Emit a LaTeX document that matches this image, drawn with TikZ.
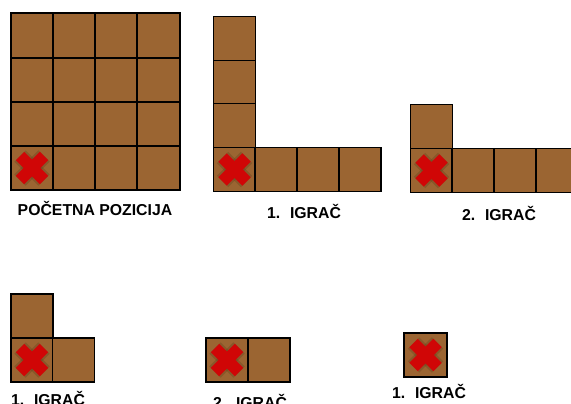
\documentclass[tikz,border=0pt]{standalone}
\usepackage{fontspec}
\setmainfont{Liberation Sans}
\definecolor{tilebrown}{RGB}{155,101,50}
\definecolor{xred}{RGB}{208,6,6}
\definecolor{glow}{RGB}{95,60,25}
\tikzset{
  cell/.style={rectangle, draw=black, fill=tilebrown, line width=1.8pt,
    minimum width=42pt, minimum height=44pt, inner sep=0pt},
  lbl/.style={font=\fontsize{15.8}{18}\selectfont\bfseries, inner sep=0pt, anchor=center},
  xglow/.style={line width=16pt, draw=glow, opacity=0.3},
  xarm/.style={line width=12pt, draw=xred}
}
\newcommand\redx[1]{%
  \draw[xglow] ([shift={(-12pt,-12pt)}]#1.center) -- ([shift={(12pt,12pt)}]#1.center);
  \draw[xglow] ([shift={(-12pt,12pt)}]#1.center) -- ([shift={(12pt,-12pt)}]#1.center);
  \draw[xarm] ([shift={(-12pt,-12pt)}]#1.center) -- ([shift={(12pt,12pt)}]#1.center);
  \draw[xarm] ([shift={(-12pt,12pt)}]#1.center) -- ([shift={(12pt,-12pt)}]#1.center);
}
\begin{document}
\begin{tikzpicture}[x=1pt,y=-1pt]
\clip (0,0) rectangle (571,404);
\fill[white] (0,0) rectangle (571,404);
% Panel 1: 4x4 grid
\foreach \c/\cx in {1/32,2/74,3/116,4/158.5}{
  \foreach \r/\cy in {1/35.5,2/80,3/124,4/168}{
    \node[cell, minimum width=42.25pt, minimum height=44.25pt] (pa-\r-\c) at (\cx,\cy) {};
  }
}
\node[lbl] (la) at (95,208.5) {POČETNA POZICIJA};
% Panel 2: L shape
\node[cell] (pb-1) at (234.5,38.5) {};
\node[cell] (pb-2) at (234.5,82.5) {};
\node[cell] (pb-3) at (234.5,125.5) {};
\node[cell] (pb-4) at (234.5,169.5) {};
\node[cell] (pb-5) at (276,169.5) {};
\node[cell] (pb-6) at (318,169.5) {};
\node[cell] (pb-7) at (360,169.5) {};
\node[lbl] (lb) at (304,211) {1.\hspace{0.62em}IGRAČ};
% Panel 3
\node[cell] (pc-1) at (431.5,126.5) {};
\node[cell] (pc-2) at (431.5,170.5) {};
\node[cell] (pc-3) at (473,170.5) {};
\node[cell] (pc-4) at (515,170.5) {};
\node[cell] (pc-5) at (557,170.5) {};
\node[lbl] (lc) at (499,213.5) {2.\hspace{0.62em}IGRAČ};
% Panel 4
\node[cell] (pd-1) at (32,316) {};
\node[cell] (pd-2) at (32,360) {};
\node[cell] (pd-3) at (73.5,360) {};
\node[lbl] (ld) at (48,398.5) {1.\hspace{0.62em}IGRAČ};
% Panel 5
\node[cell] (pe-1) at (227,360) {};
\node[cell] (pe-2) at (269,360) {};
\node[lbl] (le) at (250,401) {2.\hspace{0.62em}IGRAČ};
% Panel 6
\node[cell, minimum width=43pt] (pf-1) at (425.5,355) {};
\node[lbl] (lf) at (429,391) {1.\hspace{0.62em}IGRAČ};
% crosses
\redx{pa-4-1}
\redx{pb-4}
\redx{pc-2}
\redx{pd-2}
\redx{pe-1}
\redx{pf-1}
\end{tikzpicture}
\end{document}
